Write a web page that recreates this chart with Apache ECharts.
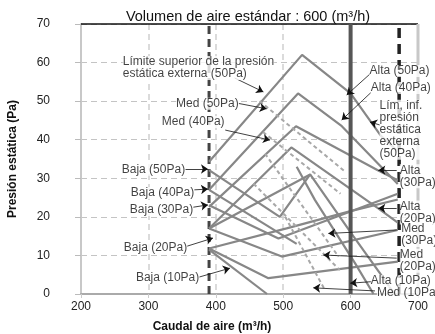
<!DOCTYPE html>
<html><head><meta charset="utf-8">
<script src="https://cdn.jsdelivr.net/npm/echarts@6/dist/echarts.min.js"></script>
<style>html,body{margin:0;padding:0;background:#fff}#c{width:435px;height:334px}</style>
</head><body><div id="c"></div>
<script>
// ---- data (air volume m3/h, static pressure Pa) ----
const xTicks = [200, 300, 400, 500, 600, 700];
const yTicks = [0, 10, 20, 30, 40, 50, 60, 70];

// upper-limit legs rising to the Alta legs (inverted V shapes)
const curve50 = [[390, 34.3], [528, 62], [600, 52], [645, 41], [670, 37]];
const curve40 = [[390, 27], [522, 52], [587, 43.5], [670, 28.5]];
const curve30 = [[390, 22.6], [519, 43.5], [641, 32], [670, 29.5]];
const curve20 = [[390, 17], [512, 38], [641, 22.2], [670, 18.5]];
const curve10 = [[390, 17], [540, 31], [604, 15], [645, 5], [665, 0]];
// Baja (low) curves running into the lower-limit lines
const baja50 = [[390, 32.1], [495, 20], [540, 31]];
const baja40 = [[390, 27], [520, 13]];
const baja30 = [[390, 23], [493, 14.4], [670, 26]];
const baja20 = [[390, 17], [498, 9.7], [670, 16.6]];
const baja20b = [[390, 11.8], [478, 4.1], [670, 8.4]];
const baja10 = [[390, 11.5], [476, 0]];
const gentle = [[390, 11.8], [505, 17], [600, 21.5], [670, 24.5]];
const alta10 = [[520, 33], [547, 24.4], [606.5, 8], [634, 0]];
// Med (dashed) curves
const med50 = [[465, 50], [590, 32]];
const med40 = [[470, 42], [585, 26]];
const med30 = [[473, 36.4], [582, 9.7]];
const med20 = [[456, 28.6], [584, 6.2]];
const med10 = [[503, 20], [562, 1]];

// vertical reference lines and top border
const vDash390 = [[390, 0], [390, 70]];
const vSolid600 = [[600, 0], [600, 70]];
const vDash672 = [[672, 0], [672, 70]];
const vRight700 = [[700, 0], [700, 70]];
const topBorder = [[200, 70], [700, 70]];

// annotations: [x, y, text, align]
const labelPts = [
  [262, 58.6, 'Límite superior de la presión\nestática externa (50Pa)', 'left'],
  [434, 49.3, 'Med (50Pa)', 'right'],
  [413, 44.6, 'Med (40Pa)', 'right'],
  [354.5, 32.2, 'Baja (50Pa)', 'right'],
  [368, 26.2, 'Baja (40Pa)', 'right'],
  [366.5, 21.8, 'Baja (30Pa)', 'right'],
  [357.5, 11.9, 'Baja (20Pa)', 'right'],
  [375.5, 4.1, 'Baja (10Pa)', 'right'],
  [628, 57.8, 'Alta (50Pa)', 'left'],
  [630, 53.4, 'Alta (40Pa)', 'left'],
  [643, 42.6, 'Lím, inf.\npresión\nestática\nexterna\n(50Pa)', 'left'],
  [673, 30.5, 'Alta\n(30Pa)', 'left'],
  [673, 21.1, 'Alta\n(20Pa)', 'left'],
  [675, 15.3, 'Med\n(30Pa)', 'left'],
  [673, 8.6, 'Med\n(20Pa)', 'left'],
  [630, 3.4, 'Alta (10Pa)', 'left'],
  [639, 0.4, 'Med (10Pa)', 'left']
];
// leader arrows: [[fromX, fromY], [toX, toY]]
const leaders = [
  [[428, 56], [470.6, 52.4]],
  [[434, 49.4], [475.6, 48.0]],
  [[414, 42.5], [480.4, 39.9]],
  [[355, 32.4], [388.4, 32.4]],
  [[368, 27], [388.4, 27.2]],
  [[366.5, 22.5], [388.4, 23.1]],
  [[357.5, 12.4], [395.8, 14.5]],
  [[375.5, 4.4], [421, 6.7]],
  [[628.5, 57], [594.2, 51.6]],
  [[630, 52.2], [586.8, 45.1]],
  [[643.6, 43.8], [628.8, 44.6]],
  [[668.4, 32.1], [641.1, 32.1]],
  [[668.4, 22.2], [641.1, 22.2]],
  [[668.4, 16.6], [567, 15.7]],
  [[668.4, 9.3], [559.6, 10.1]],
  [[631.3, 3.2], [599.4, 2.8]],
  [[636.2, 0.8], [544.6, 1.6]]
];

// ---- chart ----
const solidCurves = [curve50, curve40, curve30, curve20, curve10, baja50, baja40, baja30, baja20,
  baja20b, baja10, gentle, alta10];
const dashedCurves = [med50, med40, med30, med20, med10];

const series = [];
function addLine(data, style, z) {
  series.push({ type: 'line', data: data, symbol: 'none', silent: true, z: z || 3,
    lineStyle: style, clip: false });
}
addLine(topBorder, { color: '#111', width: 1.5 }, 2);
addLine(vRight700, { color: '#c8c8c8', width: 3 }, 2);
addLine(vDash390, { color: '#444', width: 3, type: [8, 5] }, 2);
addLine(vDash672, { color: '#222', width: 3.5, type: [10, 6] }, 2);
solidCurves.forEach(d => addLine(d, { color: '#878787', width: 2.2 }, 3));
dashedCurves.forEach(d => addLine(d, { color: '#a8a8a8', width: 2, type: [4, 3] }, 3));
addLine(vSolid600, { color: '#565656', width: 4 }, 4);

series.push({
  type: 'lines', coordinateSystem: 'cartesian2d', z: 6, silent: true,
  symbol: ['none', 'arrow'], symbolSize: 7,
  lineStyle: { color: '#111', width: 0.8, opacity: 1 },
  data: leaders.map(l => ({ coords: l }))
});
series.push({
  type: 'scatter', symbolSize: 0, z: 7, silent: true,
  data: labelPts.map(p => ({ value: [p[0], p[1]], label: { align: p[3] }, name: p[2] })),
  label: { show: true, position: 'inside', formatter: p => p.name, color: '#111',
    fontFamily: 'Liberation Sans, Arial, sans-serif', fontSize: 12, lineHeight: 12,
    backgroundColor: '#fff', verticalAlign: 'middle' }
});

const chart = echarts.init(document.getElementById('c'), null, { renderer: 'canvas' });
chart.setOption({
  animation: false,
  backgroundColor: '#fff',
  textStyle: { fontFamily: 'Liberation Sans, Arial, sans-serif' },
  title: { text: 'Volumen de aire estándar : 600 (m³/h)', left: 243, top: 4, textAlign: 'center',
    textStyle: { fontSize: 14.5, fontWeight: 'normal', color: '#111' } },
  grid: { left: 81, right: 17, top: 24, bottom: 40, containLabel: false, outerBoundsMode: 'none' },
  xAxis: {
    type: 'value', min: 200, max: 700, interval: 100,
    name: 'Caudal de aire (m³/h)', nameLocation: 'middle', nameGap: 27,
    nameTextStyle: { fontWeight: 'bold', fontSize: 12, color: '#111', padding: [0, 75, 0, 0] },
    axisLine: { lineStyle: { color: '#aaa', width: 2 } },
    axisTick: { show: true, length: 4, lineStyle: { color: '#ccc' } },
    axisLabel: { color: '#222', fontSize: 12, margin: 7 },
    splitLine: { show: true, lineStyle: { color: '#cfcfcf', type: [6, 4], width: 1.5 } }
  },
  yAxis: {
    type: 'value', min: 0, max: 70, interval: 10,
    name: 'Presión estática (Pa)', nameLocation: 'middle', nameGap: 62,
    nameTextStyle: { fontWeight: 'bold', fontSize: 12, color: '#111' },
    axisLine: { show: true, lineStyle: { color: '#c8c8c8', width: 2 } },
    axisTick: { show: true, length: 9, lineStyle: { color: '#bbb', type: [6, 4] } },
    axisLabel: { color: '#222', fontSize: 12, margin: 31 },
    splitLine: { show: true, lineStyle: { color: '#c4c4c4', type: [6, 4], width: 1.2 } }
  },
  series: series
});
</script></body></html>
